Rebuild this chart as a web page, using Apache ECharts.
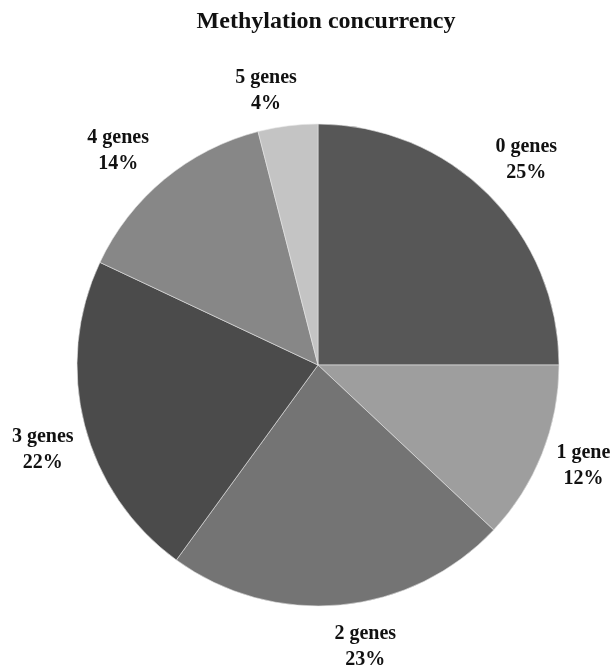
<!DOCTYPE html>
<html>
<head>
<meta charset="utf-8">
<script src="https://cdn.jsdelivr.net/npm/echarts@6/dist/echarts.min.js"></script>
<style>
  html, body { margin: 0; padding: 0; background: #fff; }
</style>
</head>
<body>
<div id="pieChart" style="width: 614px; height: 670px"></div>
<script>
const categories = ['0 genes', '1 gene', '2 genes', '3 genes', '4 genes', '5 genes']
const shares = [25, 12, 23, 22, 14, 4]
const greys = ['#575757', '#9e9e9e', '#747474', '#4b4b4b', '#878787', '#c4c4c4']

// small nudges so the labels sit where the original put them
const labelNudge = [[6, -8], [1, -2], [16, 4], [0, 15], [-17, 1], [-12, 3]]

const chart = echarts.init(document.getElementById('pieChart'))
const option = {
  animation: false,
  title: {
    text: 'Methylation concurrency',
    left: 321,
    textAlign: 'center',
    top: 5,
    textStyle: {
      fontFamily: 'Liberation Serif',
      fontWeight: 'bold',
      fontSize: 24,
      color: '#111'
    }
  },
  series: [
    {
      type: 'pie',
      center: [318, 365],
      radius: 241,
      startAngle: 90,
      clockwise: true,
      data: categories.map((name, i) => ({
        name: name,
        value: shares[i],
        itemStyle: { color: greys[i] }
      })),
      itemStyle: {
        borderColor: '#e6e6e6',
        borderWidth: 0.6
      },
      label: {
        show: true,
        position: 'outside',
        formatter: '{b}\n{c}%',
        overflow: 'none',
        fontFamily: 'Liberation Serif',
        fontWeight: 'bold',
        fontSize: 20,
        lineHeight: 26,
        color: '#111'
      },
      labelLine: {
        show: false,
        length: 38,
        length2: 0
      },
      labelLayout: (params) => ({
        align: 'center',
        verticalAlign: 'middle',
        dx: labelNudge[params.dataIndex][0],
        dy: labelNudge[params.dataIndex][1]
      })
    }
  ]
}
chart.setOption(option)
</script>
</body>
</html>
